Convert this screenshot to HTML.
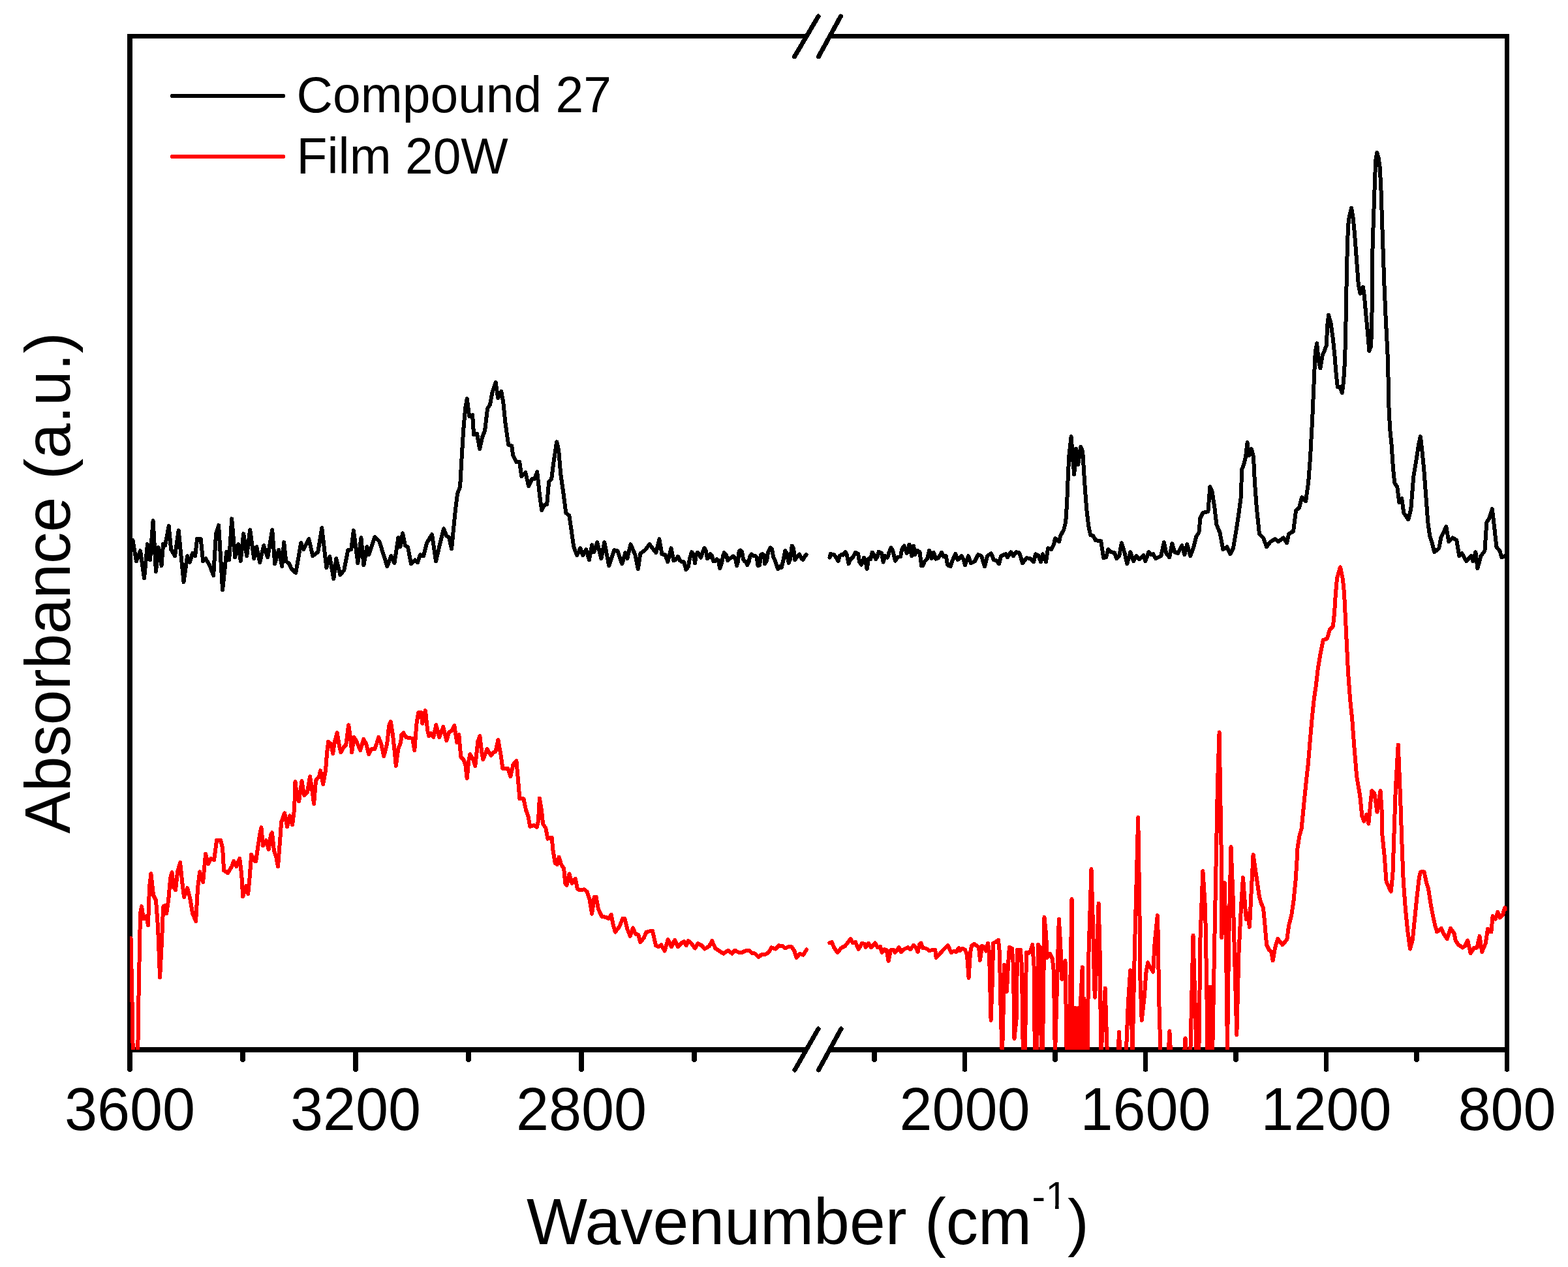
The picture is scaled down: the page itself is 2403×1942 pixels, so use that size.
<!DOCTYPE html><html><head><meta charset="utf-8"><title>IR spectra</title><style>html,body{margin:0;padding:0;background:#fff;overflow:hidden;}svg{display:block;}</style></head><body><svg width="2403" height="1942" viewBox="0 0 2403 1942" shape-rendering="crispEdges">
<rect width="2403" height="1942" fill="#fff"/>
<defs><clipPath id="pc"><rect x="199" y="55.5" width="2110.5" height="1553.5"/></clipPath><clipPath id="c1"><rect x="1590" y="1790" width="50" height="56.5"/><rect x="1617" y="1846" width="5.6" height="12"/></clipPath></defs>
<path stroke="#000" stroke-width="8" fill="none" d="M199,52 L199,1613"/>
<path stroke="#000" stroke-width="7" fill="none" d="M2309.5,52 L2309.5,1613"/>
<path stroke="#000" stroke-width="7" fill="none" d="M195,55.5 L1236,55.5 M1271,55.5 L2313,55.5"/>
<path stroke="#000" stroke-width="8" fill="none" d="M195,1609 L1236,1609 M1271,1609 L2313,1609"/>
<path stroke="#000" stroke-width="7.5" stroke-linecap="round" fill="none" d="M199.0,1609 L199.0,1639 M372.0,1609 L372.0,1624 M545.0,1609 L545.0,1639 M718.0,1609 L718.0,1624 M891.0,1609 L891.0,1639 M1064.0,1609 L1064.0,1624 M1340.0,1609 L1340.0,1624 M1478.5,1609 L1478.5,1639 M1617.0,1609 L1617.0,1624 M1755.5,1609 L1755.5,1639 M1894.0,1609 L1894.0,1624 M2032.5,1609 L2032.5,1639 M2171.0,1609 L2171.0,1624 M2309.5,1609 L2309.5,1639"/>
<g clip-path="url(#pc)" fill="none" stroke-width="6" stroke-linejoin="round" stroke-linecap="round">
<path stroke="#000" d="M203.4,828.1 L209.0,860.1 L215.0,844.1 L221.0,886.1 L226.0,834.1 L230.0,858.1 L234.6,798.1 L239.0,876.1 L243.0,839.1 L247.5,867.1 L250.1,834.1 L253.1,836.1 L258.7,806.1 L262.1,842.1 L268.1,852.1 L273.7,813.1 L281.5,892.2 L287.1,852.1 L290.7,862.1 L295.1,848.1 L299.1,852.1 L302.1,826.1 L307.7,826.1 L311.1,860.1 L315.1,856.1 L321.1,866.1 L327.1,882.1 L331.1,818.1 L335.1,805.1 L341.1,904.2 L347.2,846.1 L351.2,858.1 L355.2,795.1 L360.2,854.1 L365.2,834.1 L368.8,860.1 L373.2,818.1 L378.2,852.1 L383.2,812.1 L389.2,856.1 L393.2,838.1 L398.2,862.1 L404.2,836.1 L410.2,854.1 L417.2,812.1 L421.2,864.1 L427.2,843.1 L432.2,868.1 L435.2,831.1 L438.2,860.1 L443.2,864.1 L446.3,871.1 L453.3,878.1 L461.3,832.1 L465.3,842.1 L473.3,826.1 L479.3,852.1 L487.3,846.1 L493.3,809.1 L500.3,870.1 L505.3,853.1 L511.3,887.1 L515.3,856.1 L521.3,881.1 L527.3,874.1 L533.3,843.1 L538.3,842.1 L541.9,813.1 L548.4,863.1 L553.4,824.1 L557.4,866.1 L562.4,838.1 L565.4,850.1 L574.4,823.1 L581.4,830.1 L593.4,868.1 L599.4,852.1 L604.4,863.1 L610.4,824.1 L613.4,838.1 L617.0,817.2 L621.0,836.3 L625.0,838.3 L630.0,864.3 L636.0,858.3 L640.0,862.3 L644.0,850.3 L649.0,852.3 L654.0,832.3 L662.0,819.2 L668.1,860.3 L673.1,838.3 L680.1,810.2 L684.1,821.3 L688.1,823.3 L692.1,841.3 L695.1,810.2 L698.1,780.2 L701.1,756.2 L705.1,746.2 L707.1,710.1 L710.1,660.1 L713.1,626.1 L715.7,611.0 L719.1,638.1 L724.1,636.1 L726.1,666.1 L731.1,665.1 L735.1,688.1 L739.1,670.1 L743.1,660.1 L747.1,626.1 L751.1,620.1 L754.1,603.0 L759.7,586.0 L763.1,610.0 L768.2,600.0 L771.2,616.0 L774.2,646.1 L779.2,682.1 L784.2,683.1 L786.2,698.1 L791.2,708.1 L796.2,708.1 L799.2,730.2 L805.2,724.2 L810.2,745.2 L815.2,734.2 L819.2,734.2 L823.2,723.2 L827.2,760.2 L830.2,782.2 L834.2,774.2 L838.2,773.2 L841.2,738.2 L845.2,734.2 L848.2,710.1 L853.2,677.1 L856.2,690.1 L859.2,726.2 L863.2,754.2 L867.3,786.2 L872.3,790.2 L875.3,810.2 L879.3,838.3 L884.3,851.3 L889.3,840.3 L893.3,851.3 L898.3,842.3 L902.9,858.3 L907.3,835.3 L910.3,846.3 L915.3,831.3 L921.3,856.3 L926.3,831.3 L933.3,867.3 L941.3,843.3 L946.3,844.3 L953.3,864.3 L958.3,847.3 L961.3,856.3 L966.4,834.3 L973.4,850.3 L977.8,872.3 L981.4,848.3 L988.4,843.3 L995.4,834.3 L1005.4,847.3 L1010.4,826.3 L1014.4,849.3 L1019.4,850.3 L1023.4,861.3 L1028.4,840.3 L1032.4,859.3 L1035.0,858.1 L1039.0,853.1 L1042.0,859.1 L1045.0,861.1 L1048.0,861.1 L1051.5,873.1 L1055.0,868.1 L1057.0,856.1 L1060.0,846.1 L1063.0,850.1 L1065.0,863.1 L1067.0,850.1 L1069.0,846.6 L1072.0,851.1 L1074.0,854.6 L1077.0,846.1 L1079.5,840.1 L1082.0,845.1 L1084.0,856.1 L1087.1,854.1 L1088.6,849.1 L1091.1,852.1 L1093.1,860.1 L1096.1,860.1 L1098.6,857.1 L1101.1,859.1 L1103.1,871.1 L1106.1,863.1 L1108.1,852.1 L1109.9,847.1 L1113.1,851.1 L1115.1,859.1 L1118.1,856.1 L1121.1,854.6 L1123.6,852.6 L1127.1,856.1 L1129.1,867.1 L1131.1,860.1 L1132.6,845.1 L1134.6,843.6 L1137.1,846.1 L1139.1,857.1 L1141.1,860.1 L1143.1,861.1 L1145.1,866.1 L1147.6,861.1 L1149.1,853.1 L1151.6,849.6 L1154.6,852.1 L1157.1,851.6 L1159.6,854.1 L1161.6,867.1 L1164.1,866.1 L1166.1,850.1 L1168.6,849.1 L1171.1,851.1 L1172.1,864.1 L1175.1,859.1 L1177.1,846.1 L1180.6,839.6 L1183.1,842.1 L1185.2,854.1 L1188.2,860.1 L1192.2,872.1 L1195.2,868.1 L1197.7,870.1 L1200.2,860.1 L1203.2,844.1 L1206.2,849.1 L1208.7,863.1 L1211.2,856.1 L1213.7,836.6 L1216.2,841.1 L1218.2,858.1 L1222.2,852.1 L1225.2,849.6 L1228.2,856.1 L1230.7,858.1 L1233.7,852.1 L1235.7,850.1"/>
<path stroke="#000" d="M1271.5,854.6 L1273.0,849.1 L1278.0,850.1 L1281.0,854.1 L1284.5,860.1 L1287.0,852.1 L1289.5,850.1 L1292.0,850.6 L1295.5,846.1 L1298.0,851.1 L1300.5,864.1 L1303.5,857.1 L1306.5,855.1 L1311.0,846.6 L1315.1,849.1 L1317.1,861.1 L1320.1,865.6 L1324.1,854.6 L1326.1,858.1 L1328.6,872.1 L1331.1,856.1 L1334.1,857.1 L1336.6,846.6 L1339.6,850.1 L1342.1,857.1 L1345.1,852.1 L1346.6,845.6 L1351.1,848.1 L1353.6,861.6 L1356.1,852.1 L1360.1,854.6 L1363.1,845.1 L1365.6,839.6 L1368.1,844.1 L1372.1,859.6 L1375.1,854.1 L1380.1,853.1 L1382.1,842.1 L1385.6,836.6 L1389.6,848.1 L1393.6,834.6 L1397.1,852.1 L1400.1,836.6 L1402.1,850.1 L1406.1,844.1 L1409.6,846.1 L1412.1,867.1 L1414.1,867.1 L1417.2,860.1 L1421.2,856.1 L1424.2,843.6 L1427.7,856.1 L1430.7,846.6 L1434.2,856.6 L1438.2,855.1 L1443.2,846.6 L1446.2,853.1 L1449.7,852.1 L1452.2,866.1 L1456.7,868.1 L1459.7,859.1 L1464.2,849.1 L1467.7,858.1 L1470.2,856.1 L1473.7,852.1 L1477.2,859.1 L1479.0,866.2 L1484.0,852.2 L1488.0,863.2 L1494.0,860.2 L1499.0,850.2 L1504.0,852.2 L1509.0,868.2 L1513.0,852.2 L1519.0,848.2 L1523.0,858.2 L1527.1,859.2 L1531.1,864.2 L1534.1,852.2 L1541.1,849.2 L1544.1,854.2 L1549.1,846.2 L1553.1,852.2 L1557.1,846.2 L1562.1,847.2 L1567.1,863.2 L1573.1,855.2 L1579.1,856.2 L1584.1,861.2 L1587.1,849.2 L1591.1,851.2 L1595.1,861.2 L1598.1,849.2 L1603.1,861.2 L1606.1,840.2 L1611.1,842.2 L1615.1,834.2 L1617.1,825.2 L1623.1,830.2 L1625.2,821.2 L1630.2,812.2 L1633.2,800.2 L1635.2,770.1 L1636.8,730.1 L1638.2,700.1 L1641.6,669.0 L1644.2,704.1 L1646.2,727.1 L1649.2,688.0 L1652.2,712.1 L1656.2,685.0 L1659.2,692.1 L1662.2,740.1 L1665.2,780.1 L1668.2,806.2 L1671.2,820.2 L1675.2,821.2 L1679.2,828.2 L1687.2,829.2 L1691.2,855.2 L1695.2,854.2 L1698.2,842.2 L1703.2,846.2 L1708.2,847.2 L1711.2,856.2 L1715.2,852.2 L1718.8,832.2 L1723.2,846.2 L1727.3,864.2 L1732.3,846.2 L1737.3,860.2 L1741.3,852.2 L1746.3,857.2 L1752.3,851.2 L1755.3,860.2 L1760.3,846.2 L1764.3,850.2 L1767.3,849.2 L1771.3,856.2 L1779.3,852.2 L1783.9,831.2 L1787.3,848.2 L1792.3,854.2 L1796.3,833.2 L1800.3,846.2 L1805.3,848.2 L1811.3,836.2 L1815.3,850.2 L1819.3,834.2 L1824.3,852.2 L1829.4,838.2 L1833.4,822.2 L1837.4,816.2 L1839.4,794.2 L1843.4,786.1 L1851.4,784.1 L1854.4,746.1 L1857.4,752.1 L1861.4,778.1 L1864.4,804.2 L1869.4,816.2 L1874.4,842.2 L1880.4,838.2 L1885.4,849.2 L1890.0,840.3 L1894.0,816.3 L1898.0,790.3 L1902.0,760.2 L1903.0,720.2 L1906.0,712.2 L1909.0,700.2 L1911.6,678.1 L1914.0,698.2 L1918.0,688.1 L1921.0,700.2 L1923.0,740.2 L1926.0,780.2 L1930.0,818.3 L1936.0,824.3 L1941.1,838.3 L1947.1,830.3 L1954.1,826.3 L1959.1,830.3 L1967.1,824.3 L1972.1,832.3 L1975.1,818.3 L1982.1,814.3 L1986.1,782.2 L1991.1,778.2 L1995.1,762.2 L2001.1,768.2 L2005.1,740.2 L2008.1,700.2 L2011.3,640.0 L2015.0,555.2 L2015.9,538.0 L2018.2,526.4 L2020.5,550.6 L2023.4,564.4 L2026.9,543.7 L2029.7,537.9 L2032.6,529.9 L2034.4,497.6 L2036.1,482.6 L2039.5,495.3 L2043.0,520.6 L2045.3,543.7 L2047.6,572.5 L2049.9,593.2 L2053.4,593.2 L2056.8,602.4 L2059.1,584.0 L2060.9,555.2 L2062.0,520.6 L2063.5,440.0 L2064.7,384.7 L2066.0,346.7 L2067.9,331.5 L2071.1,318.8 L2073.6,334.0 L2076.1,359.3 L2078.0,384.7 L2079.9,410.0 L2081.8,435.4 L2084.5,450.0 L2087.0,446.0 L2089.0,440.0 L2091.0,455.0 L2093.7,486.1 L2096.0,509.1 L2098.3,537.9 L2100.6,532.2 L2102.3,509.1 L2102.8,440.0 L2103.4,384.7 L2104.6,346.7 L2105.9,308.7 L2107.2,270.7 L2108.4,245.3 L2110.3,233.9 L2112.9,242.8 L2114.8,258.0 L2116.7,296.0 L2117.9,334.0 L2119.2,372.0 L2120.5,410.0 L2121.6,440.0 L2123.6,486.0 L2125.4,520.6 L2127.1,555.2 L2127.9,600.0 L2128.6,628.8 L2130.2,657.6 L2132.5,680.6 L2134.0,703.7 L2135.2,720.2 L2137.2,740.2 L2141.3,746.2 L2144.3,770.2 L2148.3,764.2 L2151.3,786.2 L2158.3,796.3 L2162.3,780.2 L2166.3,730.2 L2171.3,700.2 L2174.3,680.1 L2176.9,669.1 L2179.3,690.2 L2182.3,720.2 L2185.3,760.2 L2188.3,800.3 L2191.3,822.3 L2195.3,834.3 L2198.3,846.3 L2205.3,840.3 L2208.3,824.3 L2216.3,807.3 L2220.3,830.3 L2226.3,824.3 L2232.3,828.3 L2236.3,852.3 L2240.4,848.3 L2247.4,860.3 L2254.4,852.3 L2257.4,860.3 L2261.4,846.3 L2264.4,871.3 L2269.4,852.3 L2275.4,844.3 L2278.4,800.3 L2282.4,794.3 L2286.8,780.2 L2290.4,810.3 L2293.4,838.3 L2298.4,844.3 L2301.4,854.3 L2306.0,852.3"/>
<path stroke="#f00" d="M200.6,1438.2 L202.6,1540.3 L204.0,1630.4 L211.0,1630.4 L212.6,1520.2 L215.0,1400.1 L217.0,1389.1 L220.0,1408.1 L224.0,1404.1 L227.0,1418.1 L229.0,1360.1 L231.4,1339.1 L235.0,1372.1 L239.0,1380.1 L242.0,1420.1 L245.1,1498.2 L248.1,1440.2 L250.1,1390.1 L252.1,1388.1 L255.1,1400.1 L258.1,1380.1 L261.1,1346.1 L263.5,1337.1 L266.1,1360.1 L269.1,1364.1 L272.1,1336.1 L276.1,1322.0 L280.1,1360.1 L282.1,1375.1 L287.1,1361.1 L291.1,1376.1 L295.1,1400.1 L300.1,1412.1 L303.1,1360.1 L306.1,1336.1 L311.1,1352.1 L313.1,1330.1 L315.1,1309.0 L319.1,1324.0 L323.1,1316.0 L328.1,1318.0 L332.1,1288.0 L338.1,1288.0 L341.1,1300.0 L343.1,1334.1 L349.2,1338.1 L355.2,1328.0 L358.2,1320.0 L362.2,1328.0 L367.2,1316.0 L370.2,1340.1 L372.2,1374.1 L377.2,1358.1 L380.2,1370.1 L382.2,1350.1 L385.2,1310.0 L390.2,1320.0 L392.2,1320.0 L395.0,1300.2 L398.0,1280.2 L400.4,1268.2 L403.0,1296.2 L408.0,1288.2 L411.6,1302.2 L415.0,1280.2 L417.0,1276.2 L420.0,1304.2 L423.0,1312.3 L426.0,1328.3 L429.0,1290.2 L431.1,1260.2 L436.1,1246.2 L440.1,1267.2 L444.1,1250.2 L448.1,1264.2 L451.1,1240.2 L452.5,1198.1 L455.1,1220.2 L458.1,1228.2 L462.5,1197.1 L466.1,1219.2 L471.1,1214.2 L475.1,1190.1 L479.1,1216.2 L481.1,1232.2 L484.1,1196.1 L489.1,1190.1 L491.1,1181.1 L495.1,1202.1 L499.1,1180.1 L501.1,1154.1 L503.1,1137.1 L507.1,1140.1 L510.1,1155.1 L513.1,1136.1 L516.7,1123.1 L520.1,1144.1 L522.5,1153.1 L526.1,1146.1 L530.2,1142.1 L534.2,1111.1 L537.2,1132.1 L539.2,1153.1 L542.6,1130.1 L546.2,1136.1 L552.2,1150.1 L557.2,1133.1 L561.2,1140.1 L565.2,1156.1 L569.2,1148.1 L574.2,1148.1 L577.2,1140.1 L580.2,1130.1 L584.2,1140.1 L588.2,1159.1 L593.2,1140.1 L596.2,1112.1 L598.8,1106.0 L602.2,1128.1 L605.2,1156.1 L606.8,1174.1 L610.2,1148.1 L614.2,1138.1 L615.2,1126.1 L618.2,1123.1 L622.2,1130.1 L628.2,1131.1 L632.3,1132.1 L635.3,1150.1 L638.3,1110.1 L641.3,1092.0 L645.3,1092.0 L647.3,1109.0 L651.9,1089.0 L655.3,1120.1 L657.3,1128.1 L660.3,1124.1 L664.3,1130.1 L668.3,1111.1 L673.3,1130.1 L679.3,1114.1 L684.3,1135.1 L688.3,1122.1 L692.3,1120.1 L696.3,1112.1 L700.3,1138.1 L703.3,1126.1 L706.3,1160.1 L710.3,1164.1 L713.3,1172.1 L715.7,1193.1 L718.3,1166.1 L720.3,1156.1 L724.3,1162.1 L728.3,1174.1 L732.4,1136.1 L735.4,1128.1 L738.4,1154.1 L740.4,1164.1 L746.4,1148.1 L752.4,1158.1 L756.4,1153.1 L759.4,1152.1 L763.4,1134.1 L767.4,1156.1 L770.4,1178.1 L778.4,1178.1 L782.4,1190.1 L786.4,1172.1 L791.4,1166.1 L794.4,1200.1 L796.4,1224.2 L802.4,1224.2 L806.2,1242.2 L809.3,1250.4 L812.4,1267.0 L818.6,1264.9 L822.8,1268.0 L824.9,1258.7 L826.9,1223.5 L830.0,1242.2 L832.1,1262.9 L836.3,1269.1 L839.4,1285.7 L845.6,1283.6 L847.6,1304.3 L850.8,1322.9 L853.9,1325.0 L856.6,1313.6 L860.1,1325.0 L864.2,1331.2 L866.3,1354.0 L868.4,1357.1 L872.5,1339.5 L876.7,1354.0 L881.8,1346.8 L884.9,1362.3 L888.0,1364.4 L895.3,1363.3 L899.4,1366.5 L903.6,1378.9 L907.1,1400.6 L910.8,1374.7 L913.5,1374.7 L917.0,1393.4 L922.2,1404.8 L928.4,1405.8 L932.6,1407.9 L936.7,1401.7 L939.8,1418.2 L942.9,1428.6 L949.2,1420.3 L954.3,1407.9 L957.4,1407.9 L961.6,1424.5 L965.7,1434.8 L969.9,1422.4 L974.0,1431.7 L978.2,1432.7 L981.3,1444.1 L986.5,1437.9 L990.6,1428.6 L994.7,1427.6 L999.9,1426.5 L1005.1,1449.3 L1009.2,1451.4 L1013.4,1448.3 L1018.6,1457.6 L1023.7,1440.0 L1028.9,1451.4 L1034.1,1441.0 L1039.3,1451.4 L1044.5,1445.2 L1048.6,1443.1 L1051.7,1449.3 L1054.8,1442.1 L1059.0,1445.2 L1065.2,1453.5 L1069.3,1446.2 L1075.5,1449.3 L1079.7,1454.5 L1086.9,1450.4 L1091.1,1442.1 L1096.3,1453.5 L1102.5,1457.6 L1108.7,1461.7 L1115.9,1456.6 L1122.1,1461.7 L1126.3,1456.6 L1131.5,1459.7 L1137.7,1459.7 L1141.8,1457.6 L1148.0,1456.6 L1152.2,1460.7 L1157.4,1461.7 L1162.5,1466.9 L1167.7,1462.8 L1172.9,1462.8 L1178.1,1459.7 L1182.2,1452.4 L1188.4,1454.5 L1193.6,1449.3 L1199.8,1450.4 L1202.9,1453.5 L1208.1,1451.4 L1213.3,1451.4 L1217.4,1457.6 L1220.6,1468.0 L1225.7,1461.7 L1230.9,1463.8 L1236.1,1455.5"/>
<path stroke="#f00" d="M1271.2,1445.0 L1275.0,1444.0 L1278.0,1452.1 L1283.5,1460.1 L1289.0,1453.1 L1295.0,1450.1 L1299.0,1445.0 L1303.5,1439.0 L1307.0,1445.0 L1311.0,1444.0 L1315.6,1455.1 L1321.1,1446.0 L1325.1,1447.0 L1326.6,1452.1 L1331.1,1446.0 L1335.1,1452.1 L1341.1,1445.5 L1345.1,1452.1 L1349.1,1451.1 L1351.6,1460.1 L1355.6,1455.1 L1358.6,1456.1 L1361.6,1473.1 L1365.1,1456.1 L1369.1,1456.1 L1371.6,1460.1 L1377.6,1452.1 L1381.1,1459.1 L1385.1,1455.1 L1391.1,1452.1 L1395.1,1455.1 L1400.1,1449.0 L1403.6,1452.1 L1406.6,1459.1 L1409.1,1448.0 L1411.6,1445.5 L1414.1,1453.1 L1419.2,1453.6 L1424.2,1457.1 L1429.2,1456.1 L1433.2,1456.1 L1434.7,1468.1 L1440.2,1462.1 L1446.2,1455.1 L1452.7,1449.0 L1457.7,1460.1 L1462.2,1457.6 L1465.2,1459.1 L1469.2,1453.1 L1471.2,1457.1 L1475.0,1453.8 L1479.0,1455.8 L1482.0,1463.8 L1484.6,1498.8 L1487.0,1459.8 L1489.0,1449.8 L1493.0,1446.8 L1497.0,1449.8 L1500.0,1451.8 L1502.0,1471.8 L1505.0,1449.8 L1509.0,1451.8 L1511.0,1457.8 L1514.0,1445.8 L1516.0,1459.8 L1517.0,1499.8 L1518.6,1563.7 L1521.0,1499.8 L1522.0,1445.8 L1525.9,1443.8 L1529.9,1440.8 L1531.9,1459.8 L1533.9,1559.7 L1535.9,1619.7 L1537.9,1539.7 L1538.9,1478.8 L1540.9,1519.8 L1542.9,1519.8 L1544.9,1479.8 L1546.9,1451.8 L1550.9,1453.8 L1552.9,1479.8 L1554.5,1591.7 L1557.9,1559.7 L1558.9,1455.8 L1563.9,1455.8 L1565.9,1479.8 L1567.9,1619.7 L1570.9,1619.7 L1572.9,1459.8 L1576.9,1460.8 L1579.9,1455.8 L1582.3,1447.8 L1584.5,1479.8 L1585.9,1619.7 L1588.9,1619.7 L1590.9,1447.8 L1593.9,1451.8 L1595.9,1619.7 L1597.9,1619.7 L1600.5,1405.9 L1602.9,1429.9 L1604.9,1467.8 L1608.9,1461.8 L1612.9,1469.8 L1614.9,1489.8 L1616.9,1619.7 L1622.8,1408.8 L1625.2,1447.5 L1627.4,1500.9 L1632.5,1472.4 L1634.7,1617.1 L1638.4,1617.1 L1642.5,1378.3 L1643.6,1617.1 L1645.8,1545.2 L1647.5,1615.0 L1648.9,1545.2 L1650.4,1615.0 L1652.3,1545.2 L1654.1,1617.1 L1655.9,1539.6 L1658.7,1482.5 L1660.0,1615.0 L1661.5,1530.4 L1663.3,1617.1 L1665.2,1558.1 L1666.5,1617.1 L1668.3,1465.9 L1672.5,1332.3 L1675.3,1429.0 L1677.1,1512.0 L1678.1,1528.6 L1680.8,1465.9 L1683.6,1384.8 L1685.4,1447.5 L1687.3,1617.1 L1691.0,1558.1 L1693.7,1514.7 L1695.6,1576.5 L1697.4,1631.8 L1713.1,1631.8 L1714.9,1582.0 L1717.3,1631.8 L1725.1,1631.8 L1728.8,1539.6 L1732.2,1487.4 L1735.5,1616.6 L1738.8,1459.0 L1744.2,1253.1 L1746.4,1393.3 L1747.5,1502.8 L1749.7,1564.1 L1754.1,1524.7 L1756.3,1491.8 L1759.1,1475.4 L1762.8,1483.0 L1767.2,1489.6 L1769.4,1448.0 L1773.8,1403.1 L1774.9,1437.1 L1776.0,1524.7 L1778.6,1616.6 L1789.1,1645.1 L1792.4,1580.5 L1795.7,1645.1 L1813.2,1645.1 L1816.5,1591.4 L1819.8,1645.1 L1824.2,1616.6 L1828.5,1433.8 L1831.8,1546.5 L1833.4,1616.6 L1837.3,1616.6 L1839.5,1437.1 L1843.4,1335.2 L1847.1,1393.3 L1849.3,1511.5 L1850.4,1616.6 L1851.7,1512.6 L1853.1,1616.6 L1854.4,1512.6 L1855.9,1512.6 L1858.1,1616.6 L1861.4,1437.1 L1866.0,1200.0 L1868.6,1122.4 L1871.6,1300.0 L1872.3,1437.0 L1876.7,1353.0 L1879.0,1450.0 L1881.0,1612.0 L1883.0,1450.0 L1886.5,1298.0 L1889.8,1380.0 L1893.0,1500.0 L1895.3,1586.0 L1898.5,1460.0 L1902.0,1390.0 L1905.0,1345.0 L1909.0,1400.0 L1910.0,1409.0 L1912.0,1400.0 L1915.0,1421.0 L1917.0,1380.0 L1920.6,1310.0 L1925.0,1340.0 L1930.0,1375.0 L1933.0,1385.0 L1936.0,1391.7 L1938.0,1411.9 L1941.1,1448.2 L1945.1,1456.2 L1948.1,1458.3 L1950.7,1472.4 L1954.2,1452.2 L1958.2,1439.1 L1965.3,1448.2 L1972.3,1440.1 L1975.3,1417.9 L1979.4,1401.8 L1982.4,1381.6 L1985.4,1351.4 L1987.4,1321.1 L1988.4,1300.9 L1991.5,1280.8 L1994.5,1270.7 L1996.5,1250.5 L1999.5,1220.3 L2002.6,1190.0 L2004.6,1172.7 L2007.6,1136.4 L2010.6,1102.1 L2013.7,1071.9 L2016.7,1051.7 L2019.7,1025.5 L2023.7,1001.3 L2027.8,981.1 L2033.8,979.1 L2037.9,965.0 L2042.9,959.9 L2044.9,940.8 L2046.9,910.5 L2049.0,886.3 L2054.0,869.2 L2058.0,888.3 L2060.1,910.5 L2062.1,950.8 L2064.1,991.2 L2066.1,1031.5 L2069.1,1071.9 L2072.2,1102.1 L2075.2,1142.5 L2079.2,1190.0 L2084.3,1220.3 L2087.3,1250.5 L2090.3,1258.6 L2094.3,1248.5 L2097.4,1262.6 L2100.4,1230.3 L2102.4,1212.2 L2106.4,1216.2 L2110.5,1244.5 L2115.5,1212.2 L2117.5,1240.4 L2118.5,1280.8 L2121.6,1311.0 L2124.6,1351.4 L2131.7,1366.5 L2134.4,1340.8 L2136.6,1275.1 L2138.8,1209.5 L2142.7,1141.6 L2144.2,1176.6 L2146.4,1231.3 L2148.6,1297.0 L2150.8,1351.8 L2154.1,1395.5 L2157.4,1428.4 L2161.1,1454.6 L2165.0,1439.3 L2168.3,1406.5 L2171.6,1373.6 L2174.9,1345.2 L2177.1,1336.4 L2182.5,1336.4 L2185.8,1351.8 L2189.1,1362.7 L2192.4,1384.6 L2195.7,1402.1 L2199.0,1417.4 L2202.2,1428.4 L2205.5,1426.2 L2208.8,1422.9 L2212.1,1430.6 L2217.6,1439.3 L2223.0,1422.9 L2228.5,1430.6 L2230.7,1441.5 L2235.1,1448.1 L2241.6,1452.5 L2244.9,1450.3 L2249.3,1441.5 L2253.7,1461.2 L2259.2,1452.5 L2263.5,1452.5 L2267.5,1434.9 L2271.2,1459.0 L2276.7,1445.9 L2280.0,1424.0 L2283.2,1428.4 L2285.4,1428.4 L2287.6,1404.3 L2292.0,1408.7 L2295.3,1397.7 L2298.6,1406.5 L2302.9,1402.1 L2306.2,1391.2 L2308.4,1393.3"/>
</g>
<path stroke="#000" stroke-width="7" stroke-linecap="round" fill="none" d="M1218,1640 L1254,1577 M1254.5,1640 L1289,1577 M1217.6,86.8 L1254.1,25 M1254.5,86.8 L1288.4,25"/>
<path stroke="#000" stroke-width="6" stroke-linecap="round" d="M264,147 L434,147"/>
<path stroke="#f00" stroke-width="6" stroke-linecap="round" d="M264,240 L434,240"/>
<g transform="translate(454.6,172.1) scale(1,1.02)"><text font-family="Liberation Sans, Arial, sans-serif" font-size="76.8" x="0" y="0">Compound 27</text></g>
<g transform="translate(454.6,265.9) scale(1,1.02)"><text font-family="Liberation Sans, Arial, sans-serif" font-size="76.8" x="0" y="0">Film 20W</text></g>
<g transform="translate(199.0,1732) scale(1,1.035)"><text font-family="Liberation Sans, Arial, sans-serif" font-size="90" text-anchor="middle" x="0" y="0">3600</text></g>
<g transform="translate(545.0,1732) scale(1,1.035)"><text font-family="Liberation Sans, Arial, sans-serif" font-size="90" text-anchor="middle" x="0" y="0">3200</text></g>
<g transform="translate(891.0,1732) scale(1,1.035)"><text font-family="Liberation Sans, Arial, sans-serif" font-size="90" text-anchor="middle" x="0" y="0">2800</text></g>
<g transform="translate(1478.5,1732) scale(1,1.035)"><text font-family="Liberation Sans, Arial, sans-serif" font-size="90" text-anchor="middle" x="0" y="0">2000</text></g>
<g transform="translate(1755.5,1732) scale(1,1.035)"><text font-family="Liberation Sans, Arial, sans-serif" font-size="90" text-anchor="middle" x="0" y="0">1600</text></g>
<g transform="translate(2032.5,1732) scale(1,1.035)"><text font-family="Liberation Sans, Arial, sans-serif" font-size="90" text-anchor="middle" x="0" y="0">1200</text></g>
<g transform="translate(2309.5,1732) scale(1,1.035)"><text font-family="Liberation Sans, Arial, sans-serif" font-size="90" text-anchor="middle" x="0" y="0">800</text></g>
<g transform="translate(807,1907.3) scale(1,1.01)"><text font-family="Liberation Sans, Arial, sans-serif" font-size="98.6" x="0" y="0">Wavenumber (cm</text></g>
<text font-family="Liberation Sans, Arial, sans-serif" font-size="62" x="1581.4" y="1854.9">-</text>
<text font-family="Liberation Sans, Arial, sans-serif" font-size="59" x="1602.5" y="1853.4" clip-path="url(#c1)">1</text>
<g transform="translate(1636,1907.3)"><text font-family="Liberation Sans, Arial, sans-serif" font-size="98.6" x="0" y="0">)</text></g>
<g transform="translate(107.1,1277.8) rotate(-90) scale(1,1.01)"><text font-family="Liberation Sans, Arial, sans-serif" font-size="96.7" x="0" y="0">Absorbance (a.u.)</text></g>
</svg></body></html>
